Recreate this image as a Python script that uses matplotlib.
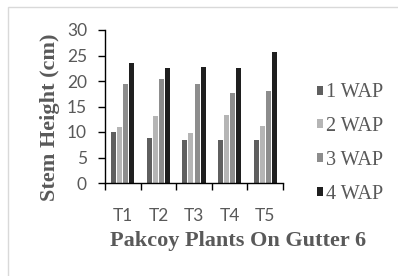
import matplotlib
matplotlib.use("Agg")
import matplotlib.pyplot as plt
import numpy as np
from matplotlib.patches import Rectangle, Patch

categories = ["T1", "T2", "T3", "T4", "T5"]
series_names = ["1 WAP", "2 WAP", "3 WAP", "4 WAP"]
wap1 = [10.0, 8.8, 8.4, 8.4, 8.4]
wap2 = [11.0, 13.1, 9.9, 13.4, 11.2]
wap3 = [19.4, 20.3, 19.4, 17.7, 18.1]
wap4 = [23.5, 22.5, 22.8, 22.5, 25.6]
series = [wap1, wap2, wap3, wap4]
colors = ["#5f5f5f", "#b5b5b5", "#8d8d8d", "#1f1f1f"]
yticks = [0, 5, 10, 15, 20, 25, 30]

W, H = 398, 276
fig = plt.figure(figsize=(W / 100, H / 100), dpi=100)
fig.patch.set_facecolor("white")
# light border
fig.patches.append(Rectangle((8 / W, -0.01), 1.0, (H - 7) / H + 0.01, transform=fig.transFigure,
                             fill=False, edgecolor="#d9d9d9", linewidth=1.0))

ax = fig.add_axes([105 / W, (H - 183) / H, (283 - 105) / W, (183 - 30) / H])
x = np.arange(len(categories))
bw = 0.14
step = 0.17
for i, (vals, c, name) in enumerate(zip(series, colors, series_names)):
    ax.bar(x + (i - 1.5) * step, vals, width=bw, color=c, label=name, zorder=2)

ax.set_xlim(-0.5, len(categories) - 0.5)
ax.set_ylim(0, 30)
ax.set_yticks(yticks)
ax.set_yticklabels([str(v) for v in yticks], fontfamily="Lato", fontsize=12.5, color="#595959")
ax.set_xticks(x)
ax.set_xticklabels(categories, fontfamily="Lato", fontsize=12.5, color="#595959")
ax.tick_params(axis="x", length=0, pad=18)
ax.set_xticks(np.arange(-0.5, len(categories)), minor=True)
ax.tick_params(axis="x", which="minor", length=5, width=1, color="black", direction="out")
ax.tick_params(axis="y", length=5, width=1, color="black", direction="out", pad=8)
for s in ["top", "right"]:
    ax.spines[s].set_visible(False)
ax.spines["left"].set_color("black")
ax.spines["bottom"].set_color("black")
ax.spines["left"].set_linewidth(1)
ax.spines["bottom"].set_linewidth(1)

fig.text(238 / W, 1 - 241 / H, "Pakcoy Plants On Gutter 6", ha="center", va="center",
         fontfamily="Liberation Serif", fontweight="bold", fontsize=16, color="#595959")
fig.text(50 / W, 1 - 117 / H, "Stem Height (cm)", rotation=90, ha="center", va="center",
         fontfamily="Liberation Serif", fontweight="bold", fontsize=16, color="#595959")

handles = [Patch(facecolor=c, edgecolor="none", label=n) for c, n in zip(colors, series_names)]
leg = fig.legend(handles=handles, loc="center left", bbox_to_anchor=(317 / W, 1 - 143.5 / H),
                 frameon=False, borderpad=0, borderaxespad=0,
                 handlelength=0.3, handleheight=0.3, handletextpad=0.15,
                 labelspacing=0.73, prop={"family": "Liberation Serif", "size": 14.5})
for t in leg.get_texts():
    t.set_color("#595959")

fig.savefig("out.png", dpi=100)
